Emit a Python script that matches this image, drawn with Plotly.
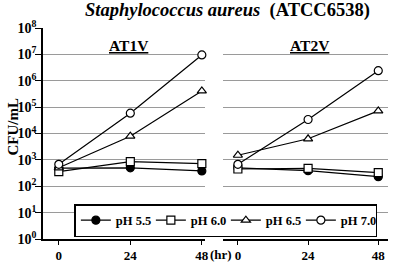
import plotly.graph_objects as go

hours = [0, 24, 48]
series_names = ["pH 5.5", "pH 6.0", "pH 6.5", "pH 7.0"]
# AT1V panel
at1v_ph55 = [490, 500, 380]
at1v_ph60 = [360, 860, 720]
at1v_ph65 = [500, 7900, 410000]
at1v_ph70 = [680, 59000, 9500000]
# AT2V panel
at2v_ph55 = [500, 390, 230]
at2v_ph60 = [450, 480, 330]
at2v_ph65 = [1500, 6300, 72000]
at2v_ph70 = [680, 34000, 2400000]

ytick_vals = [10**i for i in range(9)]
ytick_text = ["10<sup>%d</sup>" % i for i in range(9)]
xtick_text = ["0", "24", "48"]

FONT = "Liberation Serif"
symbols = ["circle", "square", "triangle-up", "circle"]
fills = ["black", "white", "white", "white"]

T, B = 28, 239
H = B - T

fig = go.Figure()
panels = [("x", "y", [at1v_ph55, at1v_ph60, at1v_ph65, at1v_ph70], True),
          ("x2", "y2", [at2v_ph55, at2v_ph60, at2v_ph65, at2v_ph70], False)]
for xa, ya, data, show in panels:
    for name, vals, sym, fc in zip(series_names, data, symbols, fills):
        fig.add_trace(go.Scatter(
            x=hours, y=vals, name=name, mode="lines+markers",
            xaxis=xa, yaxis=ya, showlegend=show,
            line=dict(color="black", width=1.2),
            marker=dict(symbol=sym, size=8, color=fc,
                        line=dict(color="black", width=1.2)),
            cliponaxis=False,
        ))

axis_common = dict(tickvals=hours, ticktext=xtick_text, showgrid=False, zeroline=False,
                   showline=True, linecolor="black", linewidth=1.5, ticks="outside",
                   ticklen=4, tickcolor="black",
                   tickfont=dict(family=FONT, size=13, color="black", weight="bold"))
fig.update_layout(
    width=398, height=266,
    margin=dict(l=43, r=3, t=T, b=266 - B),
    paper_bgcolor="white", plot_bgcolor="white",
    showlegend=True,
    xaxis=dict(domain=[0, 0.465], range=[-5.3, 49], **axis_common),
    xaxis2=dict(domain=[0.518, 0.992], range=[-5.0, 51.4], **axis_common),
    yaxis=dict(type="log", range=[0, 8], tickvals=ytick_vals, ticktext=ytick_text,
               showgrid=True, gridcolor="#9a9a9a", gridwidth=1, zeroline=False,
               showline=True, linecolor="black", linewidth=1.5, ticks="outside",
               ticklen=6, tickcolor="black", anchor="x", ticklabelstandoff=-4,
               tickfont=dict(family=FONT, size=14, color="black", weight="bold")),
    yaxis2=dict(type="log", range=[0, 8], tickvals=ytick_vals, showticklabels=False,
                showgrid=True, gridcolor="#9a9a9a", gridwidth=1, zeroline=False,
                showline=False, anchor="x2"),
    legend=dict(orientation="h", x=(75 - 43) / 355, y=(B - 204) / H,
                xanchor="left", yanchor="top",
                bgcolor="white", bordercolor="black", borderwidth=1.5,
                font=dict(family=FONT, size=12.5, color="black", weight="bold"),
                itemwidth=30, tracegroupgap=0, entrywidth=30),
)

def ann(text, px, py, size, angle=0):
    fig.add_annotation(text=text, xref="paper", yref="paper",
                       x=(px - 43) / 355, y=(B - py) / H, xanchor="center", yanchor="middle",
                       textangle=angle, showarrow=False,
                       font=dict(family=FONT, size=size, color="black", weight="bold"))

ann("<i>Staphylococcus aureus</i>  (ATCC6538)", 231, 11, 18.5)
ann("<u>AT1V</u>", 131, 45, 15.5)
ann("<u>AT2V</u>", 315, 45, 15.5)
ann("CFU/mL", 12, 127, 15, angle=-90)
ann("(hr)", 224.5, 255, 13)

fig.write_html("out.html", config={"displayModeBar": False},
               post_script="document.body.style.margin='0';document.body.style.overflow='hidden';")
